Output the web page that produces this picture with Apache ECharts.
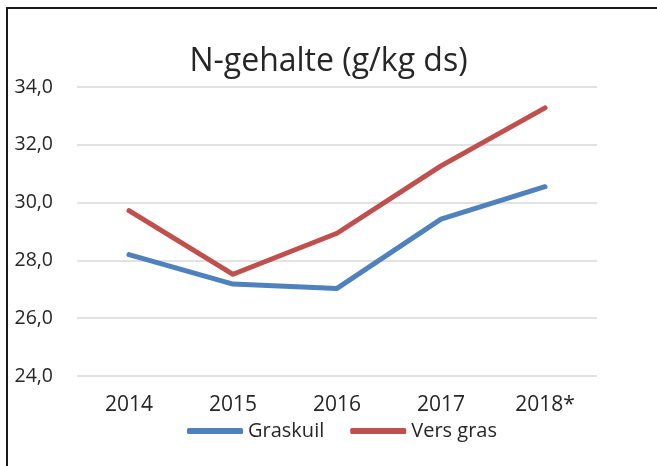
<!DOCTYPE html>
<html><head><meta charset="utf-8">
<script src="https://cdn.jsdelivr.net/npm/echarts@6/dist/echarts.min.js"></script>
<style>
html,body{margin:0;padding:0;background:#fff;}
#frame{position:absolute;left:6px;top:7px;width:651px;height:459px;border-left:2px solid #1a1a1a;border-top:2px solid #1a1a1a;}
#c{position:absolute;left:0;top:0;width:657px;height:466px;}
</style></head>
<body>
<div id="frame"></div>
<div id="c"></div>
<script>
const categories = ['2014','2015','2016','2017','2018*'];
const graskuil = [28.2, 27.18, 27.03, 29.43, 30.55];
const versGras = [29.72, 27.52, 28.94, 31.27, 33.28];
const yTicks = {min: 24, max: 34, interval: 2};

const chart = echarts.init(document.getElementById('c'), null, {renderer:'canvas'});
const font = "Open Sans, sans-serif";
chart.setOption({
  backgroundColor: 'transparent',
  animation: false,
  title: {
    text: 'N-gehalte (g/kg ds)',
    left: 'center', top: 41,
    textStyle: {fontFamily: font, fontSize: 32, fontWeight: 'normal', color: '#262626'}
  },
  grid: {left: 77, right: 60, top: 87, bottom: 90, containLabel: false},
  xAxis: {
    type: 'category', data: categories, boundaryGap: true,
    axisLine: {show: false}, axisTick: {show: false},
    axisLabel: {fontFamily: font, fontSize: 21, color: '#262626', margin: 19}
  },
  yAxis: {
    type: 'value', min: yTicks.min, max: yTicks.max, interval: yTicks.interval,
    axisLine: {show: false}, axisTick: {show: false},
    splitLine: {lineStyle: {color: '#d9d9d9', width: 1.5}},
    axisLabel: {fontFamily: font, fontSize: 19.5, color: '#262626', margin: 24,
      formatter: v => v.toFixed(1).replace('.', ',')}
  },
  legend: {
    top: 421, left: 187, padding: 0, icon: 'roundRect', itemWidth: 56, itemHeight: 6, itemGap: 26,
    textStyle: {fontFamily: font, fontSize: 20, color: '#262626'},
    data: ['Graskuil', 'Vers gras']
  },
  series: [
    {name: 'Graskuil', type: 'line', data: graskuil, symbol: 'none',
     lineStyle: {color: '#4f81bd', width: 5, cap: 'round', join: 'round'}, itemStyle: {color: '#4f81bd'}},
    {name: 'Vers gras', type: 'line', data: versGras, symbol: 'none',
     lineStyle: {color: '#c0504d', width: 5, cap: 'round', join: 'round'}, itemStyle: {color: '#c0504d'}}
  ]
});
</script>
</body></html>
